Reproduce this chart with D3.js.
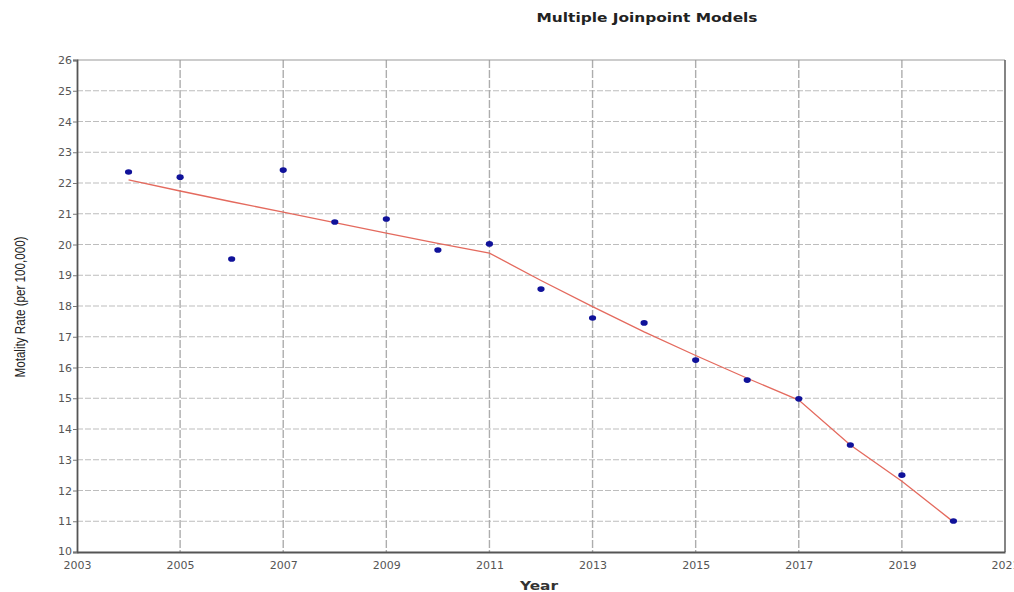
<!DOCTYPE html>
<html>
<head>
<meta charset="utf-8">
<script src="https://cdn.jsdelivr.net/npm/d3@7"></script>
<style>
  html, body { margin: 0; padding: 0; background: #fff; }
  svg { display: block; }
</style>
</head>
<body>
<svg id="chart" width="1014" height="592"></svg>
<script>
// Observed mortality rates per year
const years = [2004, 2005, 2006, 2007, 2008, 2009, 2010, 2011, 2012, 2013, 2014, 2015, 2016, 2017, 2018, 2019, 2020];
const observed = [22.36, 22.19, 19.53, 22.42, 20.73, 20.83, 19.82, 20.02, 18.55, 17.61, 17.45, 16.24, 15.59, 14.98, 13.48, 12.50, 11.01];
// Joinpoint model fitted values (joinpoints at 2011 and 2017)
const modeled = [22.10, 21.74, 21.39, 21.05, 20.71, 20.37, 20.04, 19.72, 18.83, 17.98, 17.16, 16.39, 15.65, 14.94, 13.48, 12.30, 10.98];
const xTicks = [2003, 2005, 2007, 2009, 2011, 2013, 2015, 2017, 2019, 2021];
const yTicks = [10, 11, 12, 13, 14, 15, 16, 17, 18, 19, 20, 21, 22, 23, 24, 25, 26];

const svg = d3.select("#chart");
const margin = { left: 77, right: 9, top: 60, bottom: 40 };
const W = 1014, H = 592;

const x = d3.scaleLinear().domain([2003, 2021]).range([margin.left, W - margin.right]);
const y = d3.scaleLinear().domain([10, 26]).range([H - margin.bottom, margin.top]);

// Horizontal grid
svg.append("g")
  .selectAll("line")
  .data(yTicks.slice(1, -1))
  .join("line")
  .attr("x1", x(2003)).attr("x2", x(2021))
  .attr("y1", d => y(d)).attr("y2", d => y(d))
  .attr("stroke", "#bdbdbd")
  .attr("stroke-width", 1)
  .attr("stroke-dasharray", "6,2");

// Vertical grid
svg.append("g")
  .selectAll("line")
  .data(xTicks.slice(1, -1))
  .join("line")
  .attr("x1", d => x(d)).attr("x2", d => x(d))
  .attr("y1", y(26)).attr("y2", y(10))
  .attr("stroke", "#adadad")
  .attr("stroke-width", 1.4)
  .attr("stroke-dasharray", "8,2");

// Frame
svg.append("line")
  .attr("x1", x(2003)).attr("x2", x(2021)).attr("y1", y(26)).attr("y2", y(26))
  .attr("stroke", "#999").attr("stroke-width", 1);
svg.append("line")
  .attr("x1", x(2021)).attr("x2", x(2021)).attr("y1", y(26)).attr("y2", y(10))
  .attr("stroke", "#666").attr("stroke-width", 1.6);

// Axes
const yAxis = svg.append("g")
  .attr("transform", `translate(${x(2003)},0)`)
  .call(d3.axisLeft(y).tickValues(yTicks).tickFormat(d3.format("d")).tickSize(4).tickPadding(1));
const xAxis = svg.append("g")
  .attr("transform", `translate(0,${y(10)})`)
  .call(d3.axisBottom(x).tickValues(xTicks).tickFormat(d3.format("d")).tickSize(0).tickPadding(9));

[yAxis, xAxis].forEach(a => {
  a.select(".domain").attr("stroke", "#555").attr("stroke-width", 1.8);
  a.selectAll(".tick line").attr("stroke", "#777");
  a.selectAll("text")
    .attr("fill", "#555")
    .style("font-family", "'DejaVu Sans', Verdana, sans-serif")
    .style("font-size", "11px");
});
xAxis.selectAll(".tick text").attr("dy", "0.71em");
yAxis.selectAll(".tick text").filter(d => d === 10).attr("dy", "0.2em");

// Fitted joinpoint line
const line = d3.line()
  .x((d, i) => x(years[i]))
  .y(d => y(d));
svg.append("path")
  .datum(modeled)
  .attr("d", line)
  .attr("fill", "none")
  .attr("stroke", "#e46a5e")
  .attr("stroke-width", 1.3);

// Observed points
svg.append("g")
  .selectAll("ellipse")
  .data(observed)
  .join("ellipse")
  .attr("cx", (d, i) => x(years[i]))
  .attr("cy", d => y(d))
  .attr("rx", 3.6)
  .attr("ry", 2.8)
  .attr("fill", "#10129a");

// Title
svg.append("text")
  .attr("x", 647).attr("y", 22)
  .attr("text-anchor", "middle")
  .attr("fill", "#222")
  .attr("textLength", 221)
  .attr("lengthAdjust", "spacingAndGlyphs")
  .style("font-family", "'DejaVu Sans', Verdana, sans-serif")
  .style("font-weight", "bold")
  .style("font-size", "13px")
  .text("Multiple Joinpoint Models");

// Axis titles
svg.append("text")
  .attr("x", 539).attr("y", 590)
  .attr("text-anchor", "middle")
  .attr("fill", "#333")
  .attr("textLength", 38)
  .attr("lengthAdjust", "spacingAndGlyphs")
  .style("font-family", "'DejaVu Sans', Verdana, sans-serif")
  .style("font-weight", "bold")
  .style("font-size", "12px")
  .text("Year");

svg.append("text")
  .attr("transform", "translate(25,307) rotate(-90)")
  .attr("text-anchor", "middle")
  .attr("fill", "#222")
  .attr("textLength", 141)
  .attr("lengthAdjust", "spacingAndGlyphs")
  .style("font-family", "'Liberation Sans Narrow', 'Liberation Sans', Arial, sans-serif")
  .style("font-size", "14px")
  .text("Motality Rate (per 100,000)");
</script>
</body>
</html>
